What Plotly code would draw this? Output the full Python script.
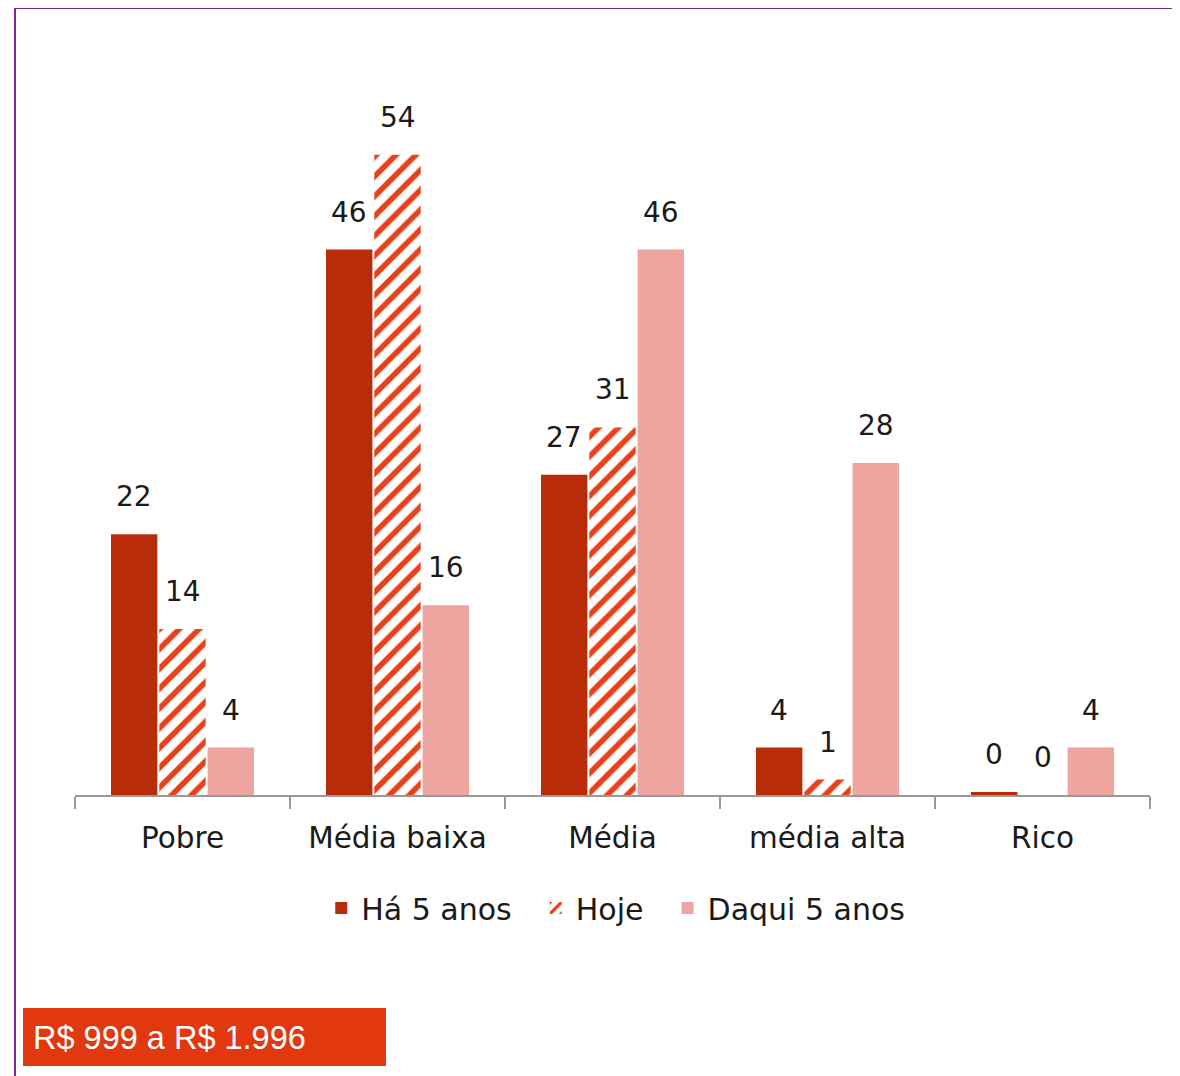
import plotly.graph_objects as go

categories = ["Pobre", "Média baixa", "Média", "média alta", "Rico"]
series_names = ["Há 5 anos", "Hoje", "Daqui 5 anos"]
ha5 = [22, 46, 27, 4, 0.25]
hoje = [14, 54, 31, 1.3, 0]
daqui = [4, 16, 46, 28, 4]
labels_ha5 = ["22", "46", "27", "4", "0"]
labels_hoje = ["14", "54", "31", "1", "0"]
labels_daqui = ["4", "16", "46", "28", "4"]

FONT = "DejaVu Sans"
CAP_FONT = "Liberation Sans"
c1, c2, c3 = "#B82C0A", "#E8401A", "#EEA5A0"
TXT = "#1a1a1a"
PAD = "\u00a0\u00a0"

fig = go.Figure()
fig.add_bar(x=categories, y=ha5, name=series_names[0] + PAD, marker=dict(color=c1, line=dict(width=0)))
fig.add_bar(x=categories, y=hoje, name=series_names[1] + PAD,
            marker=dict(color=c2, line=dict(width=0),
                        pattern=dict(shape="/", fillmode="replace", bgcolor="white",
                                     fgcolor=c2, size=14, solidity=0.4)))
fig.add_bar(x=categories, y=daqui, name=series_names[2], marker=dict(color=c3, line=dict(width=0)))

# page has an 8px body margin; plot area target: x 75..1150, y 80..795
OFF = 8
W, H = 1180 - OFF, 1076 - OFF
plot_w = 1075
plot_h = 715
bargap, groupgap = 0.326, 0.04
slot = plot_w / len(categories) * (1 - bargap) / 3
for k, (vals, labs) in enumerate([(ha5, labels_ha5), (hoje, labels_hoje), (daqui, labels_daqui)]):
    for cat, v, t in zip(categories, vals, labs):
        fig.add_annotation(x=cat, y=v, text=t, showarrow=False, yanchor="bottom",
                           xshift=(k - 1) * slot, yshift=19,
                           font=dict(family=FONT, size=28, color=TXT))

purple = "#7B2C8C"
y_top = (795 - 8) / plot_h
x_left = (15 - 75) / plot_w
fig.add_shape(type="line", xref="paper", yref="paper", x0=x_left, x1=1.1, y0=y_top, y1=y_top,
              line=dict(color=purple, width=2))
fig.add_shape(type="line", xref="paper", yref="paper", x0=x_left, x1=x_left, y0=y_top, y1=-0.5,
              line=dict(color=purple, width=2))
# caption box
fig.add_shape(type="rect", xref="paper", yref="paper",
              x0=(23 - 75) / plot_w, x1=(386 - 75) / plot_w,
              y0=(795 - 1066) / plot_h, y1=(795 - 1008) / plot_h,
              fillcolor="#E2380F", line=dict(width=0), layer="above")
fig.add_annotation(xref="paper", yref="paper", x=(31 - 75) / plot_w, y=(795 - 1038) / plot_h,
                   xanchor="left", yanchor="middle", showarrow=False,
                   text="R$ 999 a R$ 1.996", font=dict(family=CAP_FONT, size=32.5, color="white"))

fig.update_layout(
    width=W, height=H,
    margin=dict(l=75 - OFF, r=W + OFF - 1150, t=80 - OFF, b=H + OFF - 795),
    plot_bgcolor="white", paper_bgcolor="white",
    barmode="group", bargap=bargap, bargroupgap=groupgap,
    font=dict(family=FONT, size=28, color=TXT),
    showlegend=True,
    legend=dict(orientation="h", x=0.503, xanchor="center", y=-0.158, yanchor="middle",
                font=dict(family=FONT, size=30, color=TXT), itemwidth=30,
                tracegroupgap=0),
    xaxis=dict(showline=True, linecolor="#999999", linewidth=2, ticks="outside",
               tickson="boundaries", ticklen=12, tickcolor="#999999", tickwidth=2,
               ticklabelstandoff=16, tickfont=dict(family=FONT, size=29.5, color=TXT),
               showgrid=False),
    yaxis=dict(range=[0, 60.3], visible=False, showgrid=False, zeroline=False),
)

fig.write_html("out.html")
